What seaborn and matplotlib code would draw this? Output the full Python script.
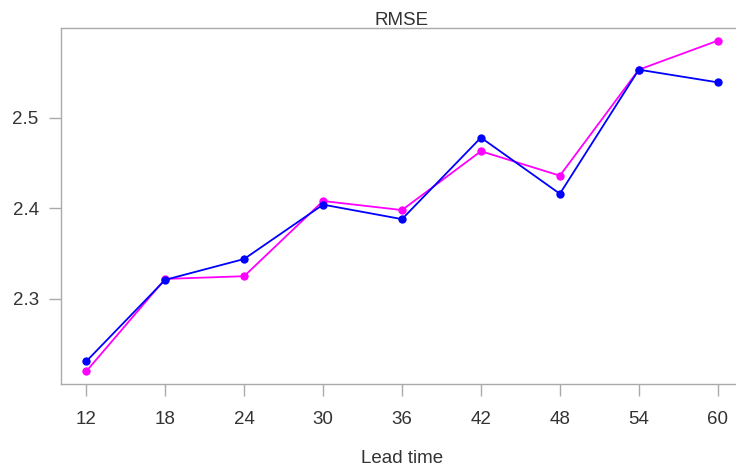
import matplotlib
matplotlib.use("Agg")
import matplotlib.pyplot as plt
import seaborn as sns
import pandas as pd

lead_time = [12, 18, 24, 30, 36, 42, 48, 54, 60]
rmse_magenta = [2.220, 2.322, 2.325, 2.408, 2.398, 2.463, 2.436, 2.553, 2.585]
rmse_blue = [2.231, 2.321, 2.344, 2.404, 2.388, 2.478, 2.416, 2.553, 2.539]
series_names = ["A", "B"]
yticks = [2.3, 2.4, 2.5]

df = pd.DataFrame({
    "Lead time": lead_time * 2,
    "RMSE": rmse_magenta + rmse_blue,
    "series": [series_names[0]] * len(lead_time) + [series_names[1]] * len(lead_time),
})

sns.set_style("white")
plt.rcParams["font.family"] = ["Liberation Sans", "DejaVu Sans"]

fig = plt.figure(figsize=(7.36, 4.68), dpi=100)
ax = fig.add_axes([61 / 736, (468 - 384) / 468, (743 - 61) / 736, (384 - 28) / 468])

sns.lineplot(data=df, x="Lead time", y="RMSE", hue="series",
             palette={"A": "#ff00ff", "B": "#0000ff"}, marker="o",
             markersize=6, markeredgewidth=0, linewidth=1.3, ax=ax, legend=False)

ax.set_xlim(10.08, 61.92)
ax.set_ylim(2.206, 2.599)
ax.set_xticks(lead_time)
ax.set_xticklabels([str(v) for v in lead_time])
ax.set_yticks(yticks)
ax.set_yticklabels([f"{v:.1f}" for v in yticks])

for s in ax.spines.values():
    s.set_color("#aaaaaa")
    s.set_linewidth(1.0)
    s.set_visible(True)

ax.tick_params(axis="both", which="major", bottom=True, left=True, direction="out",
               length=8.6, width=1.0, color="#aaaaaa",
               labelsize=13.5, labelcolor="#333333")
ax.tick_params(axis="x", pad=11)
ax.tick_params(axis="y", pad=7.5)

ax.set_title("RMSE", fontsize=13.5, color="#333333", pad=2)
ax.set_xlabel("Lead time", fontsize=13.5, color="#333333", labelpad=16)
ax.set_ylabel("")

fig.savefig("out.png", dpi=100)
